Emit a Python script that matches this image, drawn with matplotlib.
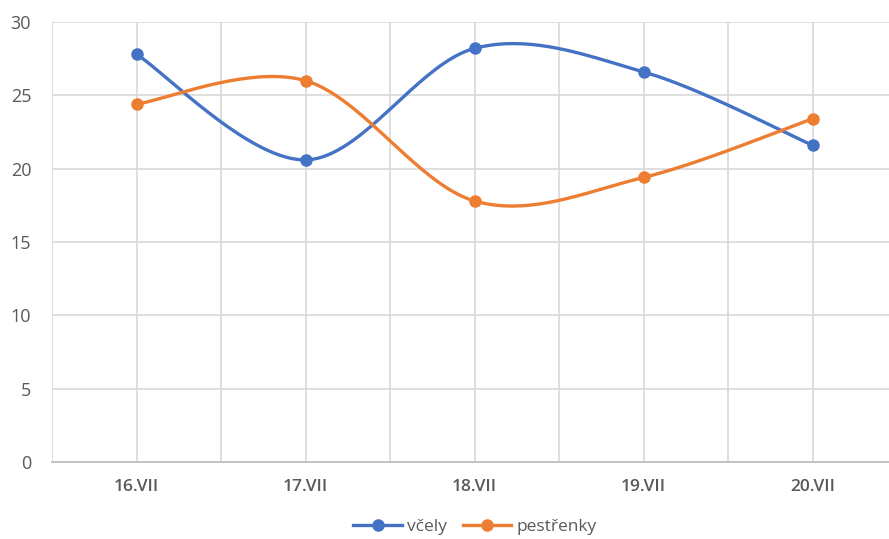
import numpy as np
import matplotlib
matplotlib.use("Agg")
import matplotlib.pyplot as plt
from matplotlib.lines import Line2D

categories = ["16.VII", "17.VII", "18.VII", "19.VII", "20.VII"]
vcely = [27.8, 20.6, 28.2, 26.6, 21.6]
pestrenky = [24.4, 26.0, 17.8, 19.4, 23.4]
yticks = [0, 5, 10, 15, 20, 25, 30]

plt.rcParams['font.family'] = ['Open Sans', 'DejaVu Sans']

def smooth(xs, ys, n=40):
    xs = np.asarray(xs, float); ys = np.asarray(ys, float)
    P = np.column_stack([xs, ys])
    out = []
    for i in range(len(P) - 1):
        p0 = P[i - 1] if i > 0 else P[i]
        p1 = P[i]; p2 = P[i + 1]
        p3 = P[i + 2] if i + 2 < len(P) else P[i + 1]
        c1 = p1 + (p2 - p0) / 6.0
        c2 = p2 - (p3 - p1) / 6.0
        t = np.linspace(0, 1, n)[:, None]
        seg = (1 - t) ** 3 * p1 + 3 * (1 - t) ** 2 * t * c1 + 3 * (1 - t) * t ** 2 * c2 + t ** 3 * p2
        out.append(seg if i == 0 else seg[1:])
    s = np.vstack(out)
    return s[:, 0], s[:, 1]

fig = plt.figure(figsize=(8.89, 5.39), dpi=100)
ax = fig.add_axes([52 / 889, 77 / 539, 1 - 52 / 889, (462 - 22) / 539])

x = np.arange(len(categories))
blue = '#4472C4'; orange = '#ED7D31'
for vals, col, lab in [(vcely, blue, 'včely'), (pestrenky, orange, 'pestřenky')]:
    sx, sy = smooth(x, vals)
    ax.plot(sx, sy, color=col, lw=2.4, solid_capstyle='round', zorder=3)
    ax.plot(x, vals, 'o', color=col, ms=8, zorder=4)

ax.set_xlim(-0.5, -0.5 + (889 - 52) / 169)
ax.set_ylim(0, 30)
ax.set_yticks(yticks)
ax.set_xticks(x)
ax.set_xticklabels(categories, fontsize=12.5, color='#595959', fontweight='semibold')
ax.tick_params(axis='y', labelsize=13, labelcolor='#595959', length=0, pad=15)
ax.tick_params(axis='x', length=0, pad=12)
for v in np.arange(-0.5, 5.0, 0.5):
    ax.axvline(v, color='#D9D9D9', lw=1.2, zorder=1)
ax.yaxis.grid(True, color='#D9D9D9', lw=1.2, zorder=1)
ax.set_axisbelow(True)
for s in ['top', 'right', 'left']:
    ax.spines[s].set_visible(False)
ax.spines['bottom'].set_color('#BFBFBF')
ax.spines['bottom'].set_linewidth(1.3)

handles = [Line2D([], [], color=blue, lw=2.4, marker='o', ms=8),
           Line2D([], [], color=orange, lw=2.4, marker='o', ms=8)]
fig.legend(handles, ['včely', 'pestřenky'], loc='center', bbox_to_anchor=(475 / 889, 1 - 527 / 539),
           ncol=2, frameon=False, fontsize=12.5, labelcolor='#595959', handlelength=2.8,
           columnspacing=0.9, handletextpad=0.3)

fig.savefig('out.png', dpi=100)
